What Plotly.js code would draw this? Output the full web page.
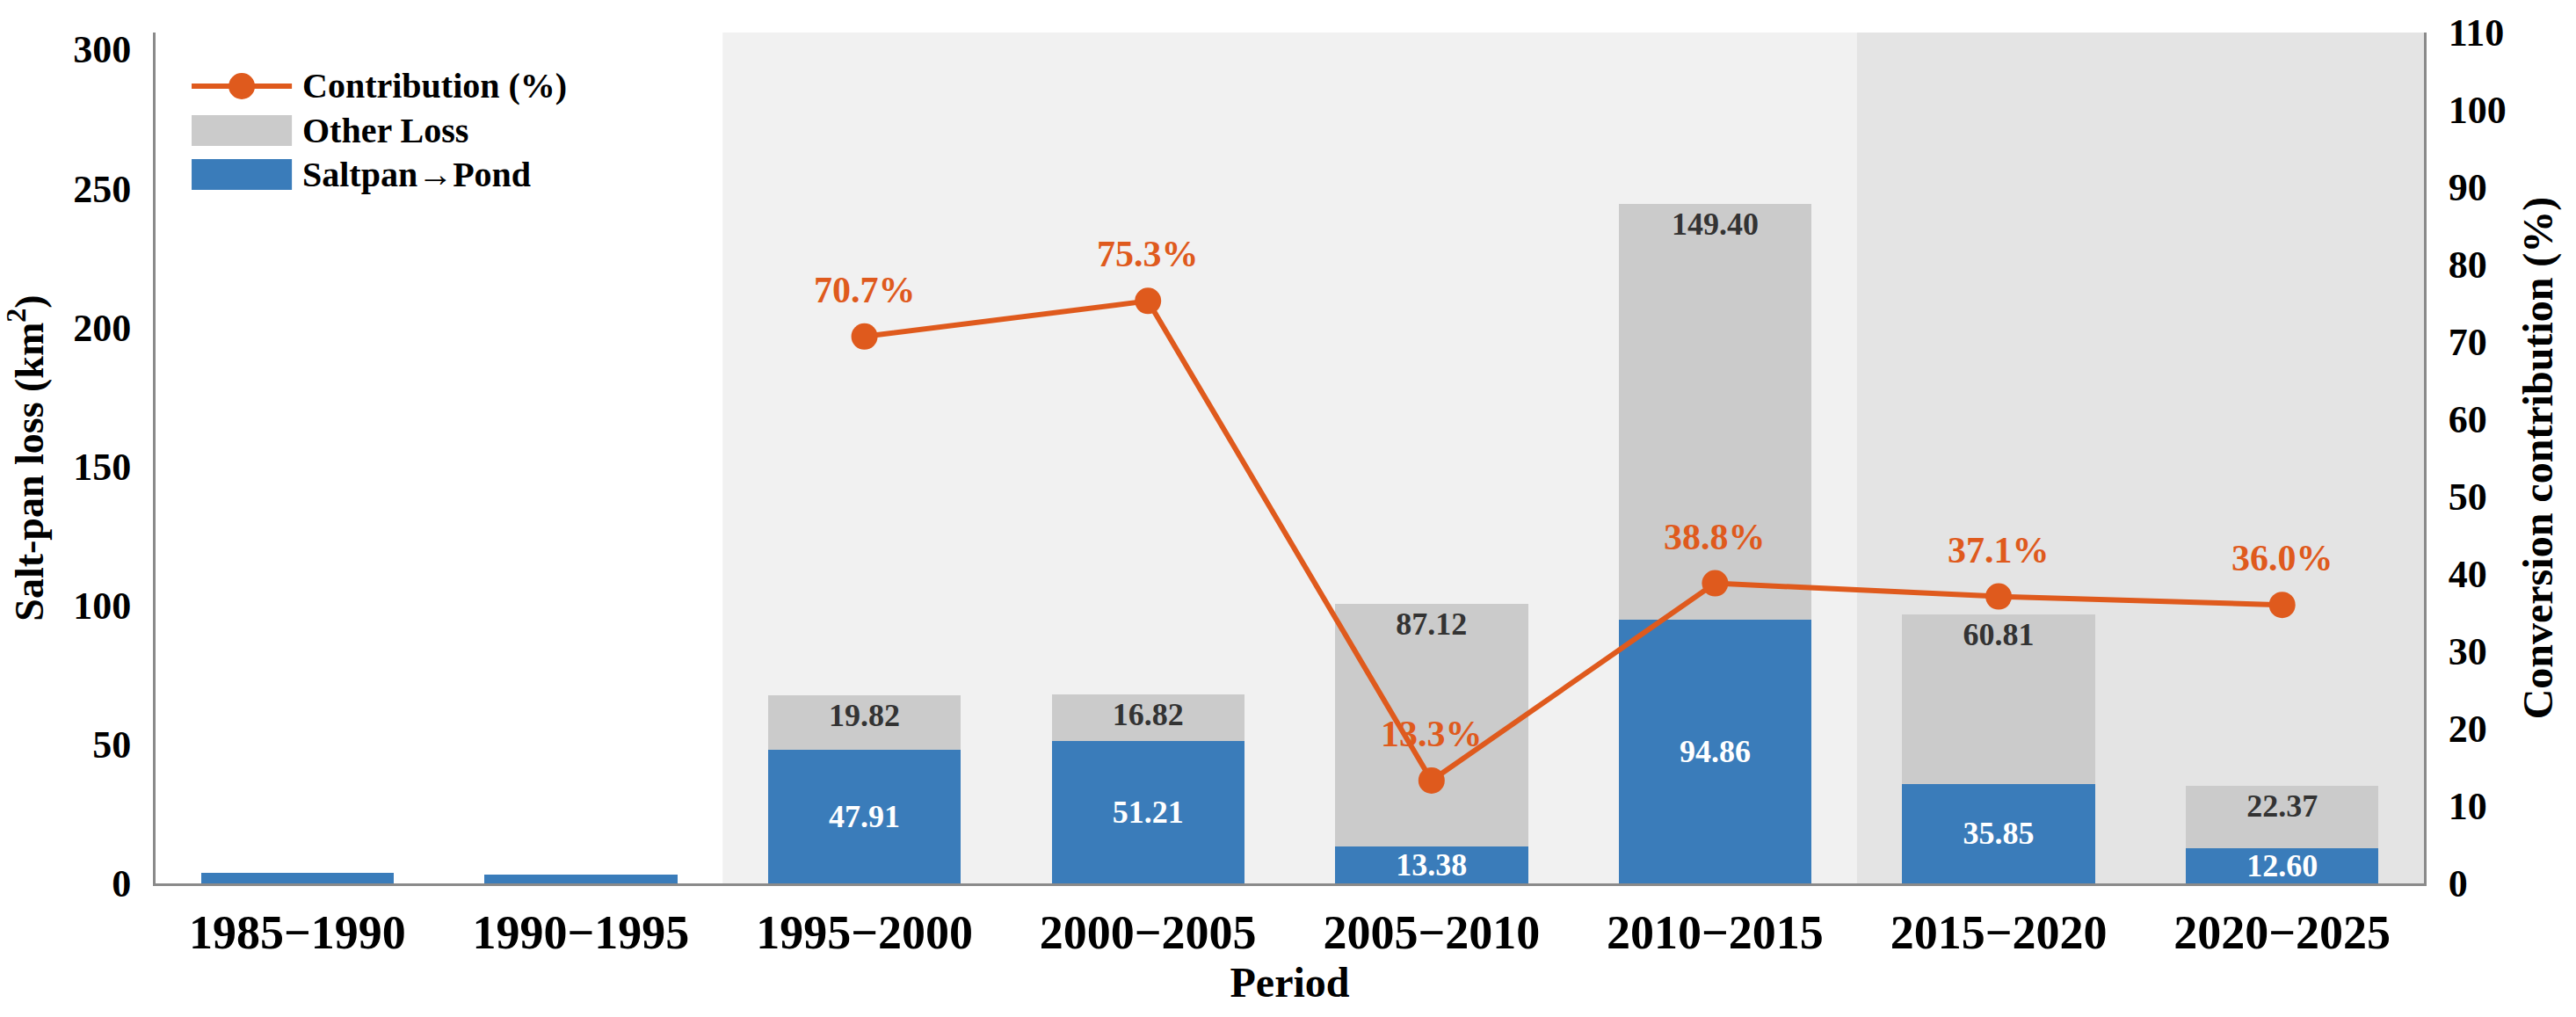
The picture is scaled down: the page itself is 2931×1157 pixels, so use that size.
<!DOCTYPE html>
<html>
<head>
<meta charset="utf-8">
<script src="https://cdn.plot.ly/plotly-3.0.1.min.js"></script>
<style>
  html, body { margin: 0; padding: 0; background: #fff; }
  #chart { width: 2931px; height: 1157px; }
</style>
</head>
<body>
<div id="chart"></div>
<script>
// periods on the x axis
var periods = ['1985\u22121990', '1990\u22121995', '1995\u22122000', '2000\u22122005',
               '2005\u22122010', '2010\u22122015', '2015\u22122020', '2020\u22122025'];

// salt-pan loss (km2), stacked
var pondLoss  = [3.8, 3.2, 47.91, 51.21, 13.38, 94.86, 35.85, 12.60];
var otherLoss = [null, null, 19.82, 16.82, 87.12, 149.40, 60.81, 22.37];

// conversion contribution (%)
var contribution = [null, null, 70.7, 75.3, 13.3, 38.8, 37.1, 36.0];

// only labelled where the source labels them
var pondLabelled = [false, false, true, true, true, true, true, true];

var FONT = 'Liberation Serif, Times New Roman, serif';
var BLUE = '#3a7cba';
var GREY = '#cbcbcb';
var ORANGE = '#df5a1d';

var pondText = pondLoss.map(function (v) { return v.toFixed(2); });
var pondPos = pondLabelled.map(function (b) { return b ? 'inside' : 'none'; });
var otherText = otherLoss.map(function (v) { return v === null ? '' : v.toFixed(2); });
var otherPos = otherLoss.map(function (v) { return v === null ? 'none' : 'inside'; });

var data = [
  {
    type: 'bar',
    name: 'Saltpan\u2192Pond',
    x: periods,
    y: pondLoss,
    width: 0.68,
    marker: {color: BLUE},
    text: pondText,
    textposition: pondPos,
    insidetextanchor: 'middle',
    constraintext: 'none',
    textfont: {family: FONT, size: 36, color: '#ffffff', weight: 'bold'},
    hoverinfo: 'skip'
  },
  {
    type: 'bar',
    name: 'Other Loss',
    x: periods,
    y: otherLoss,
    width: 0.68,
    marker: {color: GREY},
    text: otherText,
    textposition: otherPos,
    insidetextanchor: 'end',
    constraintext: 'none',
    textfont: {family: FONT, size: 36, color: '#333333', weight: 'bold'},
    hoverinfo: 'skip'
  },
  {
    type: 'scatter',
    mode: 'lines+markers',
    name: 'Contribution (%)',
    x: periods,
    y: contribution,
    yaxis: 'y2',
    line: {color: ORANGE, width: 6},
    marker: {color: ORANGE, size: 30},
    hoverinfo: 'skip'
  }
];

var notes = [];
contribution.forEach(function (v, i) {
  if (v === null) return;
  notes.push({
    x: periods[i], y: v, xref: 'x', yref: 'y2',
    text: v.toFixed(1) + '%',
    showarrow: false,
    yshift: 53,
    font: {family: FONT, size: 42, color: ORANGE, weight: 'bold'}
  });
});

// legend drawn by hand so the swatches get the source's big size
var legendRows = [
  {name: data[2].name, y: 0.937},
  {name: data[1].name, y: 0.8848},
  {name: data[0].name, y: 0.8332}
];
legendRows.forEach(function (r) {
  notes.push({
    x: 0.0639, y: r.y, xref: 'paper', yref: 'paper',
    xanchor: 'left', yanchor: 'middle', showarrow: false,
    text: r.name,
    font: {family: FONT, size: 40, color: '#000000', weight: 'bold'}
  });
});

var legendShapes = [
  {type: 'line', xref: 'paper', yref: 'paper', x0: 0.0159, x1: 0.0601, y0: 0.937, y1: 0.937,
   line: {color: ORANGE, width: 6}},
  {type: 'circle', xref: 'paper', yref: 'paper', xsizemode: 'pixel', ysizemode: 'pixel',
   xanchor: 0.038, yanchor: 0.937, x0: -15, x1: 15, y0: -15, y1: 15,
   fillcolor: ORANGE, line: {width: 0}},
  {type: 'rect', xref: 'paper', yref: 'paper', x0: 0.0159, x1: 0.0601, y0: 0.8667, y1: 0.9029,
   fillcolor: GREY, line: {width: 0}},
  {type: 'rect', xref: 'paper', yref: 'paper', x0: 0.0159, x1: 0.0601, y0: 0.8151, y1: 0.8512,
   fillcolor: BLUE, line: {width: 0}}
];

var layout = {
  width: 2931,
  height: 1157,
  margin: {l: 177, r: 173, t: 37, b: 152},
  paper_bgcolor: '#ffffff',
  plot_bgcolor: '#ffffff',
  font: {family: FONT, color: '#000000', weight: 'bold'},
  barmode: 'stack',
  showlegend: false,
  xaxis: {
    type: 'category',
    range: [-0.5, 7.5],
    showline: true, linecolor: '#8a8a8a', linewidth: 3,
    showgrid: false, zeroline: false, ticks: '',
    ticklabelstandoff: 6,
    tickfont: {family: FONT, size: 54, color: '#000000', weight: 'bold'},
    title: {text: 'Period', standoff: 0,
            font: {family: FONT, size: 48, color: '#000000', weight: 'bold'}}
  },
  yaxis: {
    range: [0, 306],
    tickvals: [0, 50, 100, 150, 200, 250, 300],
    showline: true, linecolor: '#8a8a8a', linewidth: 3,
    showgrid: false, zeroline: false, ticks: '',
    ticklabelstandoff: 16,
    tickfont: {family: FONT, size: 44, color: '#000000', weight: 'bold'},
    title: {text: 'Salt-pan loss (km<sup>2</sup>)', standoff: 20,
            font: {family: FONT, size: 46, color: '#000000', weight: 'bold'}}
  },
  yaxis2: {
    overlaying: 'y',
    side: 'right',
    range: [0, 110],
    dtick: 10,
    showline: true, linecolor: '#8a8a8a', linewidth: 3,
    showgrid: false, zeroline: false, ticks: '',
    ticklabelstandoff: 16,
    tickfont: {family: FONT, size: 44, color: '#000000', weight: 'bold'},
    title: {text: 'Conversion contribution (%)', standoff: 20,
            font: {family: FONT, size: 48, color: '#000000', weight: 'bold'}}
  },
  shapes: [
    {type: 'rect', layer: 'below', xref: 'x', yref: 'paper',
     x0: 1.5, x1: 5.5, y0: 0, y1: 1, fillcolor: '#f1f1f1', line: {width: 0}},
    {type: 'rect', layer: 'below', xref: 'x', yref: 'paper',
     x0: 5.5, x1: 7.5, y0: 0, y1: 1, fillcolor: '#e4e4e4', line: {width: 0}}
  ].concat(legendShapes),
  annotations: notes
};

Plotly.newPlot('chart', data, layout, {staticPlot: true, displayModeBar: false});
</script>
</body>
</html>
